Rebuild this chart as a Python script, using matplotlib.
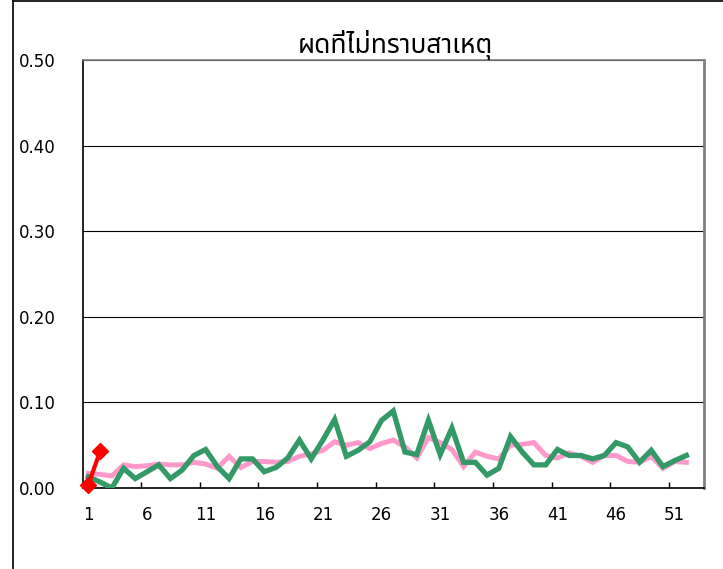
import matplotlib
matplotlib.use("Agg")
import matplotlib.pyplot as plt
from matplotlib import font_manager
from matplotlib.ft2font import FT2Font
from matplotlib.lines import Line2D

# ---- data ----
title = "ผดที่ไม่ทราบสาเหตุ"
weeks = list(range(1, 53))
x_labels = [str(w) for w in range(1, 53, 5)]
y_ticks = [0.0, 0.1, 0.2, 0.3, 0.4, 0.5]

median_series = [0.017, 0.016, 0.014, 0.027, 0.025, 0.026, 0.028, 0.027, 0.027, 0.030,
                 0.028, 0.023, 0.037, 0.024, 0.031, 0.031, 0.030, 0.031, 0.037, 0.040,
                 0.044, 0.054, 0.050, 0.053, 0.046, 0.052, 0.056, 0.048, 0.035, 0.059,
                 0.053, 0.045, 0.025, 0.042, 0.037, 0.034, 0.050, 0.051, 0.053, 0.038,
                 0.035, 0.041, 0.037, 0.030, 0.038, 0.038, 0.031, 0.030, 0.037, 0.023,
                 0.031, 0.030]
last_year = [0.013, 0.007, 0.000, 0.023, 0.011, 0.019, 0.027, 0.011, 0.021, 0.038,
             0.045, 0.025, 0.011, 0.034, 0.034, 0.019, 0.024, 0.035, 0.056, 0.034,
             0.056, 0.080, 0.037, 0.044, 0.054, 0.079, 0.090, 0.042, 0.039, 0.079,
             0.039, 0.070, 0.030, 0.030, 0.015, 0.023, 0.060, 0.042, 0.027, 0.027,
             0.045, 0.038, 0.038, 0.034, 0.038, 0.053, 0.048, 0.030, 0.044, 0.025,
             0.032, 0.038]
this_year = [0.004, 0.043]


def find_thai_font():
    names = []
    for f in font_manager.fontManager.ttflist:
        try:
            ft = FT2Font(f.fname)
            if ord("ผ") in ft.get_charmap():
                names.append(f.name)
        except Exception:
            pass
    for pref in ["Noto Sans Thai", "Noto Sans Thai UI", "Loma", "Garuda", "Tlwg Typo"]:
        if pref in names:
            return pref
    return names[0] if names else "DejaVu Sans"


thai_font = find_thai_font()

fig = plt.figure(figsize=(7.23, 5.69), dpi=100)
ax = fig.add_axes([82.5 / 723, 1 - 488 / 569, 621.5 / 723, 428 / 569])

ax.plot(weeks, median_series, color="#FF99CC", lw=3.6, solid_joinstyle="miter", zorder=3)
ax.plot(weeks, last_year, color="#339966", lw=3.8, solid_joinstyle="miter", zorder=4)
ax.plot(weeks[:len(this_year)], this_year, color="#FF0000", lw=3, marker="D",
        markersize=8, zorder=5, clip_on=False)

ax.set_xlim(0.5, 53.5)
ax.set_ylim(0, 0.5)
ax.set_yticks(y_ticks)
ax.set_yticklabels([f"{v:.2f}" for v in y_ticks])
ax.set_xticks(list(range(1, 53, 5)))
ax.set_xticklabels(x_labels)
ax.set_xticks([x + 0.5 for x in range(5, 51, 5)], minor=True)
ax.tick_params(axis="x", which="major", length=0, pad=13, labelsize=12)
ax.tick_params(axis="x", which="minor", direction="in", length=4.3, width=1, color="black")
ax.tick_params(axis="y", which="major", length=0, pad=19, labelsize=12)
ax.yaxis.grid(True, color="black", lw=0.8)
ax.set_axisbelow(True)

for s in ["left", "bottom"]:
    ax.spines[s].set_color("black")
    ax.spines[s].set_linewidth(1.2)
ax.spines["right"].set_color("#808080")
ax.spines["right"].set_linewidth(2)
ax.spines["top"].set_color("#808080")
ax.spines["top"].set_linewidth(1.2)

fig.text(395 / 723, 1 - 45 / 569, title, ha="center", va="center", fontsize=19,
         family=[thai_font, "DejaVu Sans"])

# outer chart border (partially visible)
fig.add_artist(Line2D([12.5 / 723, 12.5 / 723], [0, 1 - 1 / 569], transform=fig.transFigure,
                      color="black", lw=1.2))
fig.add_artist(Line2D([12.5 / 723, 1], [1 - 1 / 569, 1 - 1 / 569], transform=fig.transFigure,
                      color="black", lw=1.2))

fig.savefig("out.png", dpi=100)
